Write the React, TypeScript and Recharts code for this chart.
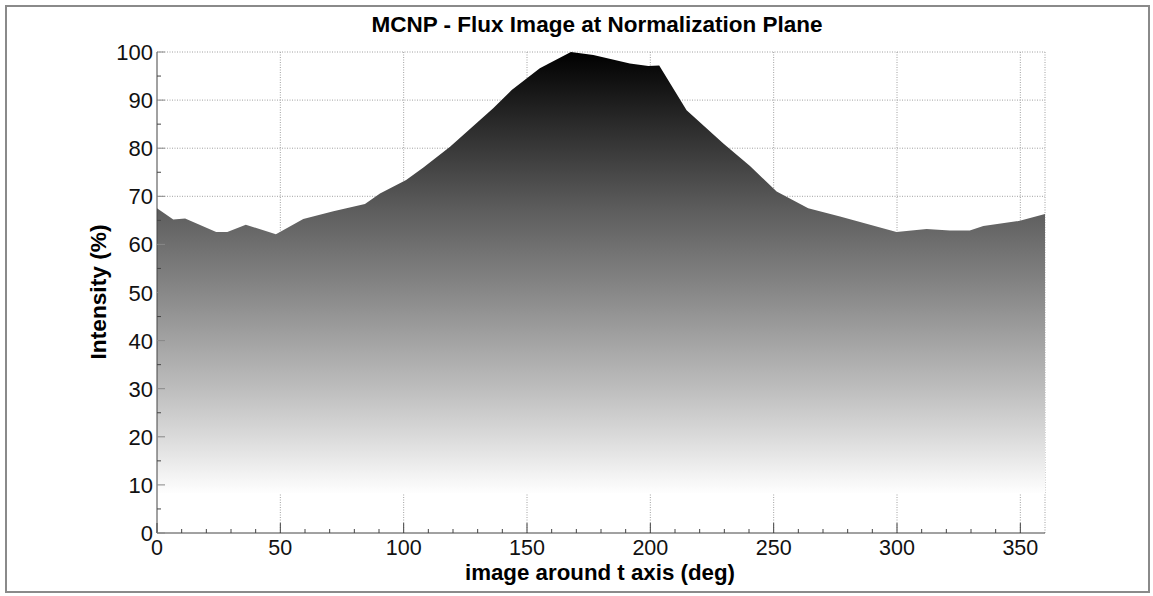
import React from 'react';
import { AreaChart, Area, XAxis, YAxis, CartesianGrid } from 'recharts';

// ---- data ----
const ANGLE_DEG = [0, 6.6, 11.4, 24, 28.5, 36, 48.2, 59.3, 71.5, 84.3, 90.4, 101, 108, 118.8, 136.3, 143.8, 155.2, 167.8, 176.9, 191.7, 199.2, 203.6, 214.7, 229.6, 240.4, 251.2, 264, 276.9, 299.8, 312, 321.4, 329.5, 335, 349.8, 360];
const INTENSITY = [67.5, 65.2, 65.4, 62.6, 62.6, 64.1, 62.1, 65.3, 66.9, 68.4, 70.6, 73.4, 76.0, 80.3, 88.3, 92.1, 96.6, 100, 99.4, 97.6, 97.1, 97.2, 87.9, 81.0, 76.3, 71.0, 67.5, 65.8, 62.6, 63.2, 62.9, 62.9, 63.8, 64.9, 66.3];
const IMAGE_FLOOR = 8.3;

const X_TICKS = [0, 10, 20, 30, 40, 50, 60, 70, 80, 90, 100, 110, 120, 130, 140, 150, 160, 170, 180, 190, 200, 210, 220, 230, 240, 250, 260, 270, 280, 290, 300, 310, 320, 330, 340, 350, 360];
const X_LABELS = [0, 50, 100, 150, 200, 250, 300, 350];
const Y_TICKS = [0, 5, 10, 15, 20, 25, 30, 35, 40, 45, 50, 55, 60, 65, 70, 75, 80, 85, 90, 95, 100];
const Y_LABELS = [0, 10, 20, 30, 40, 50, 60, 70, 80, 90, 100];
const GRID_X = [50, 100, 150, 200, 250, 300, 350, 360];
const GRID_Y = [10, 20, 30, 40, 50, 60, 70, 80, 90, 100];

const TITLE = 'MCNP - Flux Image at Normalization Plane';
const X_TITLE = 'image around t axis (deg)';
const Y_TITLE = 'Intensity (%)';

const rows = ANGLE_DEG.map((d, i) => ({ deg: d, v: INTENSITY[i] }));

const FONT = '"Liberation Sans", Arial, Helvetica, sans-serif';

const XTick = (props: any) => {
  const { x, y, payload } = props;
  const v = payload.value;
  const major = X_LABELS.includes(v);
  return (
    <g>
      {v !== 360 && (
        <line x1={x} y1={y} x2={x} y2={y - (major ? 10 : 4)} stroke="#444" strokeWidth={1} />
      )}
      {major && (
        <text x={x} y={y + 22} textAnchor="middle" fontSize={21.5} fill="#111" fontFamily={FONT}>
          {v}
        </text>
      )}
    </g>
  );
};

const YTick = (props: any) => {
  const { x, y, payload } = props;
  const v = payload.value;
  const major = Y_LABELS.includes(v);
  return (
    <g>
      <line x1={x} y1={y} x2={x + (major ? 8 : 4)} y2={y} stroke={major ? '#888' : '#444'} strokeWidth={1} />
      {major && (
        <text x={x - 4} y={y + 8} textAnchor="end" fontSize={22} fill="#111" fontFamily={FONT}>
          {v}
        </text>
      )}
    </g>
  );
};

export default function App() {
  return (
    <div
      style={{
        position: 'absolute',
        left: 0,
        top: 0,
        width: 1153,
        height: 596,
        background: '#fff',
        fontFamily: FONT,
        overflow: 'hidden',
      }}
    >
      <div
        style={{
          position: 'absolute',
          left: 5,
          top: 5,
          width: 1141,
          height: 584,
          border: '2px solid #8a8a8a',
        }}
      />
      <AreaChart
        width={1153}
        height={596}
        data={rows}
        margin={{ top: 52, right: 108, bottom: 0, left: 0 }}
      >
        <defs>
          <linearGradient id="fluxGrad" x1="0" y1="0" x2="0" y2="1">
            <stop offset="0" stopColor="#000000" />
            <stop offset="0.354" stopColor="#5c5c5c" />
            <stop offset="0.545" stopColor="#888888" />
            <stop offset="0.763" stopColor="#bdbdbd" />
            <stop offset="0.872" stopColor="#dadada" />
            <stop offset="0.96" stopColor="#f3f3f3" />
            <stop offset="1" stopColor="#fefefe" />
          </linearGradient>
        </defs>
        <CartesianGrid
          stroke="#a0a0a0"
          strokeDasharray="1 1.5"
          verticalValues={GRID_X}
          horizontalValues={GRID_Y}
        />
        <XAxis
          dataKey="deg"
          type="number"
          domain={[0, 360]}
          ticks={X_TICKS}
          interval={0}
          height={63}
          tickSize={0}
          tickMargin={0}
          tickLine={false}
          axisLine={{ stroke: '#444', strokeWidth: 1 }}
          tick={<XTick />}
        />
        <YAxis
          type="number"
          domain={[0, 100]}
          ticks={Y_TICKS}
          interval={0}
          width={157}
          tickSize={0}
          tickMargin={0}
          tickLine={false}
          axisLine={{ stroke: '#444', strokeWidth: 1 }}
          tick={<YTick />}
        />
        <Area
          type="linear"
          dataKey="v"
          baseValue={IMAGE_FLOOR}
          stroke="none"
          fill="url(#fluxGrad)"
          fillOpacity={1}
          isAnimationActive={false}
          dot={false}
          activeDot={false}
        />
      </AreaChart>
      <div
        style={{
          position: 'absolute',
          left: 297,
          width: 600,
          top: 15,
          textAlign: 'center',
          fontSize: 22.5,
          lineHeight: '20px',
          fontWeight: 'bold',
          color: '#000',
          whiteSpace: 'nowrap',
        }}
      >
        {TITLE}
      </div>
      <div
        style={{
          position: 'absolute',
          left: 300,
          width: 600,
          top: 563.5,
          textAlign: 'center',
          fontSize: 22.3,
          lineHeight: '18px',
          fontWeight: 'bold',
          color: '#000',
          whiteSpace: 'nowrap',
        }}
      >
        {X_TITLE}
      </div>
      <div
        style={{
          position: 'absolute',
          left: 98,
          top: 292,
          transform: 'translate(-50%, -50%) rotate(-90deg)',
          fontSize: 22.7,
          lineHeight: '22px',
          fontWeight: 'bold',
          color: '#000',
          whiteSpace: 'nowrap',
        }}
      >
        {Y_TITLE}
      </div>
    </div>
  );
}
